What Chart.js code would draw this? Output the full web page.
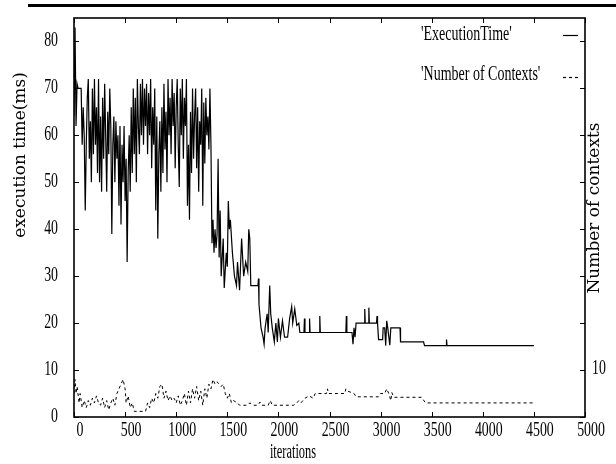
<!DOCTYPE html>
<html>
<head>
<meta charset="utf-8">
<script src="https://cdn.jsdelivr.net/npm/chart.js@4.4.1/dist/chart.umd.min.js"></script>
<style>
html, body { margin: 0; padding: 0; background: #fff; }
#wrap { position: relative; width: 616px; height: 464px; overflow: hidden; }
#rule { position: absolute; left: 28px; top: 4px; width: 588px; height: 2.5px; background: #000; }
canvas { position: absolute; left: 0; top: 0; }
</style>
</head>
<body>
<div id="wrap">
<div id="rule"></div>
<canvas id="plot" width="616" height="464"></canvas>
</div>
<script>
const xTicks = [0, 500, 1000, 1500, 2000, 2500, 3000, 3500, 4000, 4500, 5000];
const yTicks = [0, 10, 20, 30, 40, 50, 60, 70, 80];
const y2Ticks = [10];
const legendNames = ["'ExecutionTime'", "'Number of Contexts'"];

const execIter = [
  0, 10, 20, 30, 40, 50, 60, 70, 80, 90, 100, 110, 120, 130, 140, 150, 160, 170, 180, 190,
  200, 210, 220, 230, 240, 250, 260, 270, 280, 290, 300, 310, 320, 330, 340, 350, 360, 370, 380, 390,
  400, 410, 420, 430, 440, 450, 460, 470, 480, 490, 500, 510, 520, 530, 540, 550, 560, 570, 580, 590,
  600, 610, 620, 630, 640, 650, 660, 670, 680, 690, 700, 710, 720, 730, 740, 750, 760, 770, 780, 790,
  800, 810, 820, 830, 840, 850, 860, 870, 880, 890, 900, 910, 920, 930, 940, 950, 960, 970, 980, 990,
  1000, 1010, 1020, 1030, 1040, 1050, 1060, 1070, 1080, 1090, 1100, 1110, 1120, 1130, 1140, 1150, 1160, 1170, 1180, 1190,
  1200, 1210, 1220, 1230, 1240, 1250, 1260, 1270, 1280, 1290, 1300, 1310, 1320, 1330,
  1340, 1350, 1360, 1370, 1380, 1390, 1400, 1410, 1420, 1430, 1440, 1460,
  1470, 1490, 1500, 1510, 1520, 1530, 1550, 1570, 1590, 1600, 1620, 1640, 1660, 1680, 1700, 1710, 1720, 1730, 1800, 1805,
  1810, 1830, 1850, 1860, 1870, 1890, 1900, 1915, 1925, 1940, 1960, 1975, 1990, 2000, 2020, 2040, 2060, 2090, 2110, 2130,
  2140, 2160, 2180, 2200, 2210, 2250, 2255, 2260, 2300, 2305, 2310, 2400, 2405, 2410, 2660, 2665, 2670, 2720, 2730, 2740,
  2750, 2760, 2840, 2845, 2850, 2880, 2885, 2890, 2960, 2965, 2970, 2980, 3020, 3025, 3040, 3050, 3060, 3070, 3090, 3100,
  3190, 3195, 3420, 3430, 3640, 3645, 3650, 4500
];
const execMs = [
  64, 83, 62, 71, 70, 70, 70, 70, 58, 66, 60, 44, 58, 68, 72, 55, 63, 50, 70, 56,
  72, 58, 66, 52, 72, 50, 64, 48, 68, 55, 71, 60, 48, 65, 56, 70, 62, 39, 58, 64,
  50, 63, 55, 60, 45, 62, 41, 58, 50, 62, 46, 55, 33, 52, 60, 48, 66, 52, 70, 56,
  68, 50, 72, 62, 56, 71, 60, 72, 58, 70, 62, 71, 56, 69, 60, 72, 53, 66, 58, 70,
  44, 64, 38, 56, 63, 48, 66, 52, 71, 57, 65, 50, 72, 60, 68, 56, 72, 62, 69, 53,
  66, 72, 58, 49, 70, 60, 72, 55, 68, 62, 72, 45, 58, 42, 65, 52, 70, 55, 64, 70,
  53, 66, 48, 63, 58, 70, 45, 67, 54, 68, 60, 64, 57, 70,
  58, 37, 42, 35, 40, 36, 39, 55, 34, 44, 30, 38,
  27.5, 35, 32, 46, 40, 42, 35, 30, 28, 33, 27, 38, 30, 33, 31, 40, 38, 28, 28, 29.5,
  24, 19, 17, 15.5, 19, 22, 18, 28, 22, 19, 16, 20, 16, 21, 17, 20.5, 17, 17, 21, 23.5,
  20, 23, 19.5, 20, 18, 18, 21, 18, 18, 21, 18, 18, 21.5, 18, 18, 21.5, 18, 18, 15.5, 19,
  17, 20, 20, 23, 20, 20, 23.3, 20, 20, 21.5, 20, 16.5, 16.5, 19, 19, 15.2, 20.5, 19, 15.3, 19,
  19, 16, 16, 15.2, 15.2, 16.5, 15.2, 15.2
];

const ctxIter = [
  0, 10, 20, 30, 50, 60, 80, 100, 120, 140, 160, 180, 200, 220, 240, 260, 280, 300, 320, 340,
  360, 380, 400, 420, 440, 460, 480, 500, 510, 530, 550, 570, 590, 700, 720, 740, 760, 780, 800, 820,
  840, 860, 880, 900, 920, 940, 960, 980, 1000, 1020, 1040, 1060, 1080, 1100, 1120, 1140, 1160, 1180, 1200, 1220,
  1240, 1260, 1280, 1300, 1320, 1340, 1360, 1380, 1400, 1420, 1440, 1460, 1480, 1500, 1520, 1540, 1560, 1600, 1620, 1700,
  1720, 1760, 1800, 1820, 1840, 1900, 1920, 1940, 2100, 2150, 2180, 2200, 2220, 2260, 2300, 2340, 2360, 2470, 2480, 2490,
  2650, 2660, 2680, 2740, 2760, 2980, 3000, 3040, 3060, 3080, 3100, 3110, 3130, 3400, 3440, 4500
];
const ctxCount = [
  5, 8, 5, 6.5, 3, 5, 2, 3.5, 2, 3.5, 2.5, 4, 3, 4.5, 3, 2.5, 4, 2, 3.5, 1.5,
  3, 4, 2.5, 5, 6, 7, 8, 6, 3, 4.5, 2, 3, 1.2, 1.2, 3, 2, 4, 3, 5, 4,
  6.5, 7, 4, 5.5, 3.5, 4.5, 3.5, 4, 3, 4.5, 2.5, 3.5, 5, 2.5, 5.5, 3, 6, 4, 6.5, 3.5,
  5.5, 2.5, 6, 4, 7, 6, 8, 7, 7.5, 7, 6.5, 7, 5, 4, 5, 3, 3.5, 3, 2.5, 2.5,
  3, 2.5, 2.5, 3.2, 2.5, 2.5, 3.5, 2.5, 2.5, 2.5, 3, 3.5, 3, 4, 4.5, 4, 5, 5, 6, 5,
  5, 6, 5.5, 5, 4.3, 4.3, 5, 5, 6, 5, 3.5, 5.2, 4.2, 4.2, 3, 3
];

function toPoints(xs, ys) {
  return xs.map((x, i) => ({ x: x, y: ys[i] }));
}

function squeezed(ctx, text, x, y, font, sx, align) {
  ctx.save();
  ctx.font = font;
  ctx.textAlign = align;
  ctx.textBaseline = 'middle';
  ctx.translate(x, y);
  ctx.scale(sx, 1);
  ctx.fillText(text, 0, 0);
  ctx.restore();
}

function upright(ctx, text, x, y, font) {
  ctx.save();
  ctx.font = font;
  ctx.textAlign = 'center';
  ctx.textBaseline = 'middle';
  ctx.translate(x, y);
  ctx.rotate(-Math.PI / 2);
  ctx.fillText(text, 0, 0);
  ctx.restore();
}

const tickFont = '21px "Liberation Serif"';
const frame = {
  id: 'frame',
  afterDatasetsDraw(c) {
    const ctx = c.ctx;
    const a = c.chartArea;
    const sx = c.scales.x, sy = c.scales.y, sy2 = c.scales.y2;
    ctx.save();
    ctx.strokeStyle = '#000';
    ctx.fillStyle = '#000';
    ctx.lineWidth = 1.6;
    ctx.strokeRect(a.left, a.top, a.right - a.left, a.bottom - a.top);
    ctx.lineWidth = 1;
    ctx.beginPath();
    xTicks.forEach(v => {
      const p = Math.round(sx.getPixelForValue(v)) + 0.5;
      ctx.moveTo(p, a.bottom); ctx.lineTo(p, a.bottom - 5);
      ctx.moveTo(p, a.top); ctx.lineTo(p, a.top + 5);
    });
    yTicks.forEach(v => {
      const p = Math.round(sy.getPixelForValue(v)) + 0.5;
      ctx.moveTo(a.left, p); ctx.lineTo(a.left + 5, p);
      ctx.moveTo(a.right, p); ctx.lineTo(a.right - 5, p);
    });
    ctx.stroke();

    xTicks.forEach(v => squeezed(ctx, String(v), sx.getPixelForValue(v) + 6, a.bottom + 13, tickFont, 0.66, 'center'));
    yTicks.forEach(v => squeezed(ctx, String(v), a.left - 16, sy.getPixelForValue(v) - 1, tickFont, 0.66, 'right'));
    y2Ticks.forEach(v => squeezed(ctx, String(v), a.right + 7, sy2.getPixelForValue(v) - 2, tickFont, 0.66, 'left'));
    squeezed(ctx, 'iterations', 293, a.bottom + 36, '20px "Liberation Serif"', 0.62, 'center');
    upright(ctx, 'execution time(ms)', 21, 155, '17px "DejaVu Serif"');
    upright(ctx, 'Number of contexts', 595, 208, '17px "DejaVu Serif"');

    squeezed(ctx, legendNames[0], 421, 35, '20px "Liberation Serif"', 0.7, 'left');
    squeezed(ctx, legendNames[1], 421, 75, '20px "Liberation Serif"', 0.7, 'left');
    ctx.lineWidth = 1.2;
    ctx.beginPath();
    ctx.moveTo(563, 35.5); ctx.lineTo(578, 35.5);
    ctx.stroke();
    ctx.setLineDash([3, 3]);
    ctx.beginPath();
    ctx.moveTo(563, 77.5); ctx.lineTo(578, 77.5);
    ctx.stroke();
    ctx.restore();
  }
};

function initChart() {
  const canvas = document.getElementById('plot');
  new Chart(canvas.getContext('2d'), {
    type: 'line',
    data: {
      datasets: [{
        label: 'ExecutionTime',
        data: toPoints(execIter, execMs),
        borderColor: '#000',
        borderWidth: 1.2,
        pointRadius: 0,
        tension: 0,
        yAxisID: 'y'
      }, {
        label: 'Number of Contexts',
        data: toPoints(ctxIter, ctxCount),
        borderColor: '#000',
        borderWidth: 1,
        borderDash: [3, 3],
        pointRadius: 0,
        tension: 0,
        yAxisID: 'y2'
      }]
    },
    options: {
      responsive: false,
      animation: false,
      devicePixelRatio: 1,
      layout: { padding: { left: 74, right: 31, top: 18, bottom: 47 } },
      plugins: { legend: { display: false }, tooltip: { enabled: false } },
      scales: {
        x: { type: 'linear', min: 0, max: 5000, display: false },
        y: { min: 0, max: 85, display: false },
        y2: { min: 0, max: 85, display: false, position: 'right' }
      }
    },
    plugins: [frame]
  });
}

initChart();
</script>
</body>
</html>
